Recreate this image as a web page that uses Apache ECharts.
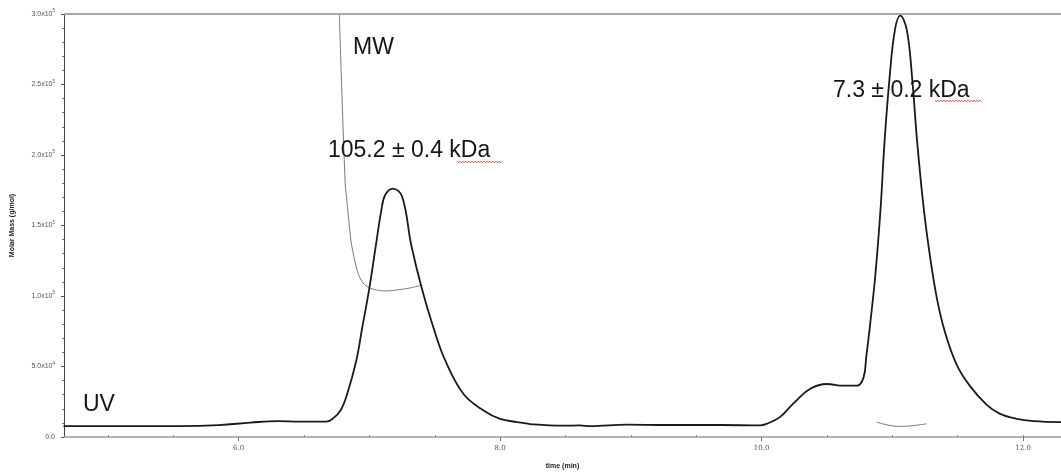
<!DOCTYPE html>
<html>
<head>
<meta charset="utf-8">
<script src="https://cdn.jsdelivr.net/npm/echarts@6/dist/echarts.min.js"></script>
<style>html,body{margin:0;padding:0;background:#fff}#c{width:1061px;height:475px}</style>
</head>
<body>
<div id="c"></div>
<script>
// UV trace: [time (min), signal scaled to molar-mass axis]
const uvTrace = [
  [4.66, 7750], [5.55, 7750], [5.85, 8450], [6.09, 10200], [6.30, 11300], [6.47, 10900],
  [6.67, 10900], [6.72, 13000], [6.78, 19000], [6.83, 30500], [6.90, 54300], [6.945, 77500],
  [7.00, 105700], [7.05, 136200], [7.09, 160000], [7.12, 171500], [7.18, 176200],
  [7.25, 170500], [7.32, 136200], [7.40, 105700], [7.49, 77500], [7.58, 54300],
  [7.72, 30500], [7.87, 19000], [8.00, 12800], [8.13, 10600], [8.23, 9200], [8.48, 8000],
  [8.61, 8200], [8.69, 7700], [8.97, 8800], [9.27, 8500], [9.68, 8500], [9.99, 8200],
  [10.04, 9400], [10.14, 14100], [10.24, 23500], [10.37, 34100], [10.50, 37600],
  [10.62, 36400], [10.73, 36400], [10.78, 42300], [10.80, 56400], [10.83, 79900],
  [10.87, 115100], [10.91, 162100], [10.94, 209100], [10.98, 256100], [11.02, 288900],
  [11.06, 298800], [11.11, 288900], [11.15, 256100], [11.19, 209100], [11.24, 162100],
  [11.29, 126900], [11.34, 98700], [11.40, 75200], [11.49, 51700], [11.59, 36600],
  [11.72, 23000], [11.82, 16600], [11.95, 12900], [12.08, 11300], [12.29, 10600]
];
// Molar mass across peak 1
const mwPeak1 = [
  [6.77, 300000], [6.813, 183200], [6.826, 169100], [6.851, 145900], [6.864, 136200],
  [6.902, 119800], [6.941, 110600], [6.989, 106400], [7.055, 104300], [7.132, 103600],
  [7.234, 104600], [7.31, 105700], [7.394, 107500]
];
// Molar mass across peak 2
const mwPeak2 = [
  [10.88, 10600], [10.966, 8460], [11.058, 7540], [11.149, 7960], [11.262, 9370]
];
const xMajorTicks = [6, 8, 10, 12];
const xMinorTicks = [5, 5.5, 6.5, 7, 7.5, 8.5, 9, 9.5, 10.5, 11, 11.5, 12];
const annotations = [
  { text: 'MW', x: 353, y: 36 },
  { text: '105.2 \u00b1 0.4 kDa', x: 328, y: 139 },
  { text: '7.3 \u00b1 0.2 kDa', x: 833, y: 79 },
  { text: 'UV', x: 83, y: 393 }
];
const squiggles = [
  { x0: 457, x1: 503, y: 162 },
  { x0: 935, x1: 982, y: 101 }
];

const chart = echarts.init(document.getElementById('c'));
function yFmt(v) {
  if (v === 0) return '{m|0.0}';
  if (v < 100000) return '{m|' + (v / 10000).toFixed(1) + 'x10}{s|4}';
  return '{m|' + (v / 100000).toFixed(1) + 'x10}{s|5}';
}
const graphics = annotations.map(a => ({
  type: 'text', x: a.x, y: a.y, z: 100,
  style: { text: a.text, fill: '#151515', font: '23px "Liberation Sans", Arial, sans-serif', verticalAlign: 'top' }
}));
squiggles.forEach(s => {
  const pts = [];
  let up = true;
  for (let x = s.x0; x <= s.x1; x += 1.5) { pts.push([x, s.y + (up ? -0.8 : 0.8)]); up = !up; }
  graphics.push({ type: 'polyline', z: 100, shape: { points: pts }, style: { stroke: '#e0302a', lineWidth: 0.9, fill: null } });
});
// top border
graphics.push({ type: 'line', z: 50, shape: { x1: 64, y1: 14, x2: 1061, y2: 14 }, style: { stroke: '#a8a8a8', lineWidth: 2 } });

const xBase = { type: 'value', min: 4.664, max: 12.29, gridIndex: 0 };
chart.setOption({
  animation: false,
  backgroundColor: '#fff',
  grid: { left: 64, right: 0, top: 14, bottom: 35, containLabel: false },
  xAxis: [
    Object.assign({}, xBase, {
      name: 'time (min)', nameLocation: 'middle', nameGap: 26,
      nameTextStyle: { fontSize: 7, fontWeight: 'bold', color: '#222', fontFamily: 'Liberation Sans' },
      axisLine: { show: true, lineStyle: { color: '#9a9a9a', width: 1.5 } },
      axisTick: { show: true, length: 4, customValues: xMajorTicks, lineStyle: { color: '#777' } },
      axisLabel: { customValues: xMajorTicks, formatter: v => v.toFixed(1), fontSize: 7, color: '#555', margin: 8, fontFamily: 'DejaVu Serif' },
      splitLine: { show: false }
    }),
    Object.assign({}, xBase, {
      position: 'bottom',
      axisLine: { show: false },
      axisTick: { show: true, inside: true, length: 2, customValues: xMinorTicks, lineStyle: { color: '#888' } },
      axisLabel: { show: false },
      splitLine: { show: false }
    })
  ],
  yAxis: {
    type: 'value', min: 0, max: 300000, interval: 50000,
    name: 'Molar Mass (g/mol)', nameLocation: 'middle', nameGap: 48,
    nameTextStyle: { fontSize: 7, fontWeight: 'bold', color: '#222', fontFamily: 'Liberation Sans' },
    axisLine: { show: true, lineStyle: { color: '#444', width: 1 } },
    axisTick: { show: true, length: 3, lineStyle: { color: '#555' } },
    minorTick: { show: true, splitNumber: 5, length: 2, lineStyle: { color: '#777' } },
    axisLabel: {
      formatter: yFmt, margin: 9,
      rich: { m: { fontSize: 7, color: '#555', fontFamily: 'Liberation Sans' }, s: { fontSize: 4.5, color: '#555', padding: [0, 0, 6, 0], fontFamily: 'Liberation Sans' } }
    },
    splitLine: { show: false }
  },
  series: [
    { type: 'line', data: uvTrace, showSymbol: false, smooth: 0.4, lineStyle: { color: '#1a1a1a', width: 1.8 }, z: 3 },
    { type: 'line', data: mwPeak1, showSymbol: false, smooth: 0.4, lineStyle: { color: '#7a7a7a', width: 1 }, z: 2 },
    { type: 'line', data: mwPeak2, showSymbol: false, smooth: 0.4, lineStyle: { color: '#7a7a7a', width: 1 }, z: 2 }
  ],
  graphic: graphics
});
</script>
</body>
</html>
